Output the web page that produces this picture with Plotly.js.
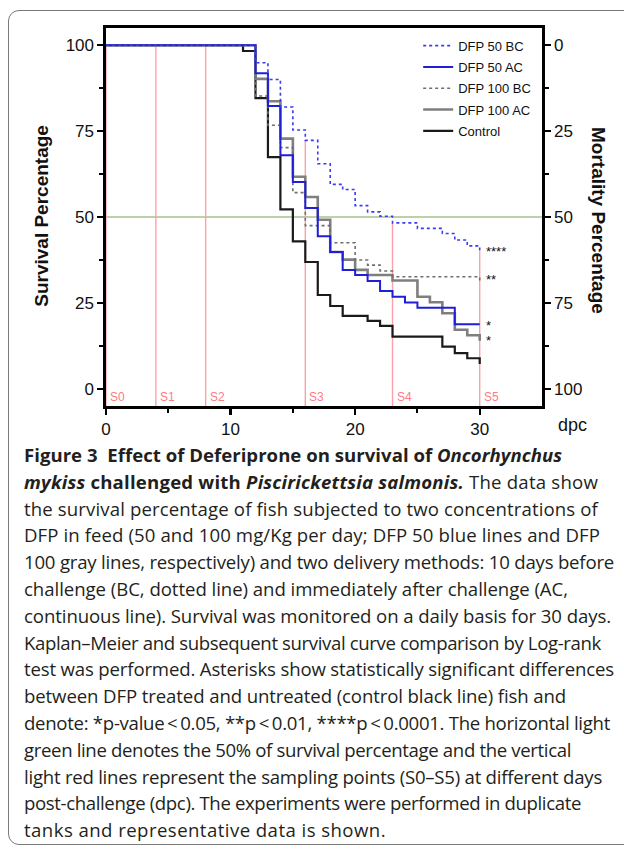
<!DOCTYPE html>
<html>
<head>
<meta charset="utf-8">
<script src="https://cdn.plot.ly/plotly-3.0.1.min.js"></script>
<style>
  html, body { margin: 0; padding: 0; background: #fff; }
  #wrap { position: relative; width: 624px; height: 850px; overflow: hidden; background: #fff; }
  #frame { position: absolute; left: 8px; top: 10px; width: 700px; height: 835px; border: 1px solid #7a7a7a; border-radius: 11px; box-sizing: border-box; pointer-events: none; }
  #plot { position: absolute; left: 0; top: 0; width: 624px; height: 850px; }
  #cap { position: absolute; left: 24px; top: 442px; width: 600px; font-family: "Open Sans", "Noto Sans", sans-serif; font-size: 18.6px; line-height: 26.8px; color: #231f20; white-space: nowrap; }
  #cap .ln { display: block; }
  #cap .ln span.t { display: inline-block; }
  #cap b { font-weight: 700; }
</style>
</head>
<body>
<div id="wrap">
  <div id="plot"></div>
  <div id="frame"></div>
  <div id="cap"></div>
</div>
<script>
// ---------------- data ----------------
const dfp50bcDays  = [0, 12, 13, 14, 15, 16, 17, 18, 19, 20, 21, 22, 23, 25, 27, 28, 29, 30];
const dfp50bcSurv  = [100, 94.9, 90.0, 82.0, 75.3, 72.3, 65.5, 59.5, 58.0, 53.3, 51.5, 50.2, 48.3, 46.7, 45.2, 43.3, 41.6, 40.0];

const dfp50acDays  = [0, 12, 13, 14, 15, 16, 17, 18, 19, 20, 21, 22, 23, 24, 25, 28, 30];
const dfp50acSurv  = [100, 91.8, 82.3, 68.0, 60.2, 52.6, 44.4, 39.8, 34.6, 33.1, 31.4, 28.5, 26.8, 25.1, 23.6, 18.8, 18.8];

const dfp100bcDays = [0, 12, 13, 14, 15, 16, 18, 20, 21, 22, 23, 30];
const dfp100bcSurv = [100, 85.2, 76.7, 70.2, 57.1, 47.5, 42.5, 37.5, 36.0, 34.3, 32.6, 30.9];

const dfp100acDays = [0, 12, 13, 14, 15, 16, 17, 18, 19, 20, 21, 23, 25, 26, 27, 28, 29, 30];
const dfp100acSurv = [100, 90.2, 83.7, 72.8, 61.7, 55.8, 49.2, 39.8, 37.6, 34.6, 33.1, 31.5, 26.8, 25.2, 22.0, 17.2, 15.6, 14.0];

const controlDays  = [0, 11, 12, 13, 14, 15, 16, 17, 18, 19, 21, 22, 23, 27, 28, 29, 30];
const controlSurv  = [100, 98.3, 84.6, 67.4, 52.2, 42.9, 36.9, 27.3, 24.1, 21.2, 19.8, 18.3, 15.2, 12.3, 10.4, 8.9, 7.2];

const seriesNames  = ["DFP 50 BC", "DFP 50 AC", "DFP 100 BC", "DFP 100 AC", "Control"];

const samplingDays   = [0, 4, 8, 16, 23, 30];
const samplingLabels = ["S0", "S1", "S2", "S3", "S4", "S5"];

const starLabels = ["****", "**", "*", "*"];
const starLevels = [40.1, 31.8, 18.4, 14.2];

const survivalTicks  = [0, 25, 50, 75, 100];
const mortalityTicks = [0, 25, 50, 75, 100];
const dayTicks       = [0, 10, 20, 30];
const halfSurvival   = 50;

// ---------------- helpers ----------------
function stepValue(days, vals, d) {
  let v = vals[0];
  for (let i = 0; i < days.length; i++) { if (days[i] <= d) v = vals[i]; }
  return v;
}

const FONT = "Liberation Sans, Arial, Helvetica, sans-serif";

const styles = {
  "DFP 50 BC":  { color: "#3b3bf0", width: 1.6, dash: "dot" },
  "DFP 50 AC":  { color: "#1f1fd8", width: 2.0, dash: "solid" },
  "DFP 100 BC": { color: "#6e6e6e", width: 1.6, dash: "dot" },
  "DFP 100 AC": { color: "#7f7f7f", width: 2.6, dash: "solid" },
  "Control":    { color: "#1a1a1a", width: 2.2, dash: "solid" }
};
const seriesData = {
  "DFP 50 BC":  [dfp50bcDays, dfp50bcSurv],
  "DFP 50 AC":  [dfp50acDays, dfp50acSurv],
  "DFP 100 BC": [dfp100bcDays, dfp100bcSurv],
  "DFP 100 AC": [dfp100acDays, dfp100acSurv],
  "Control":    [controlDays, controlSurv]
};

// draw Control first so DFP curves sit on top; legend order via legendrank
const traces = seriesNames.slice().reverse().map(name => ({
  type: "scatter", mode: "lines", name: name, legendgroup: name,
  legendrank: 1000 + seriesNames.indexOf(name),
  x: seriesData[name][0], y: seriesData[name][1],
  line: { shape: "hv", color: styles[name].color, width: styles[name].width, dash: styles[name].dash },
  hoverinfo: "skip"
}));
// empty trace to carry the right-hand mortality axis
traces.push({ type: "scatter", mode: "lines", x: [], y: [], yaxis: "y2", showlegend: false, hoverinfo: "skip" });

const shapes = [];
shapes.push({ type: "line", layer: "below", xref: "paper", x0: 0, x1: 1, yref: "y", y0: halfSurvival, y1: halfSurvival,
  line: { color: "#bcd1ab", width: 2 } });
samplingDays.forEach(d => {
  shapes.push({ type: "line", layer: "below", xref: "x", x0: d, x1: d, yref: "y", y0: -5,
    y1: stepValue(dfp50bcDays, dfp50bcSurv, d), line: { color: "#ffa0a8", width: 1.4 } });
});

const annotations = [];
samplingDays.forEach((d, i) => {
  annotations.push({ x: d, y: -2.3, xref: "x", yref: "y", text: samplingLabels[i], showarrow: false,
    xanchor: "left", yanchor: "middle", xshift: 2, font: { family: FONT, size: 12, color: "#ff7b85" } });
});
starLabels.forEach((s, i) => {
  annotations.push({ x: 30, y: starLevels[i], xref: "x", yref: "y", text: s, showarrow: false,
    xanchor: "left", yanchor: "middle", xshift: 4, font: { family: FONT, size: 13, color: "#111" } });
});
annotations.push({ x: -0.147, y: 0.503, xref: "paper", yref: "paper", text: "<b>Survival Percentage</b>",
  textangle: -90, showarrow: false, xanchor: "center", yanchor: "middle", font: { family: FONT, size: 19, color: "#111" } });
annotations.push({ x: 1.128, y: 0.49, xref: "paper", yref: "paper", text: "<b>Mortality Percentage</b>",
  textangle: 90, showarrow: false, xanchor: "center", yanchor: "middle", font: { family: FONT, size: 19, color: "#111" } });
annotations.push({ x: 1.033, y: -0.05, xref: "paper", yref: "paper", text: "dpc", showarrow: false,
  xanchor: "left", yanchor: "middle", font: { family: FONT, size: 18, color: "#111" } });

const axisCommon = {
  showgrid: false, zeroline: false, showline: true, linecolor: "#000", linewidth: 2.6,
  ticks: "outside", ticklen: 6, tickwidth: 2.4, tickcolor: "#000",
  tickfont: { family: FONT, size: 17, color: "#111" }
};

const layout = {
  width: 624, height: 850,
  margin: { l: 106, r: 82, t: 28, b: 444 },
  paper_bgcolor: "rgba(0,0,0,0)", plot_bgcolor: "rgba(0,0,0,0)",
  showlegend: true,
  legend: { x: 0.716, y: 0.993, xanchor: "left", yanchor: "top", traceorder: "grouped",
    tracegroupgap: 1.4, bgcolor: "rgba(0,0,0,0)", font: { family: FONT, size: 13, color: "#111" } },
  xaxis: Object.assign({}, axisCommon, { range: [0, 35], tickvals: dayTicks, ticktext: dayTicks.map(String),
    mirror: true, minor: { tickvals: [5, 15, 25], ticks: "outside", ticklen: 4, tickwidth: 2, tickcolor: "#000" } }),
  yaxis: Object.assign({}, axisCommon, { range: [-5, 105], tickvals: survivalTicks, ticktext: survivalTicks.map(String),
    minor: { tickvals: [12.5, 37.5, 62.5, 87.5], ticks: "outside", ticklen: 4, tickwidth: 2, tickcolor: "#000" } }),
  yaxis2: Object.assign({}, axisCommon, { overlaying: "y", side: "right", range: [105, -5],
    tickvals: mortalityTicks, ticktext: mortalityTicks.map(String),
    minor: { tickvals: [12.5, 37.5, 62.5, 87.5], ticks: "outside", ticklen: 4, tickwidth: 2, tickcolor: "#000" } }),
  shapes: shapes,
  annotations: annotations
};

Plotly.newPlot("plot", traces, layout, { staticPlot: true, displayModeBar: false });

// ---------------- caption ----------------
const captionLines = [
  "<b>Figure 3&nbsp; Effect of Deferiprone on survival of <i>Oncorhynchus</i></b>",
  "<b><i>mykiss</i> challenged with <i>Piscirickettsia salmonis.</i></b> The data show",
  "the survival percentage of fish subjected to two concentrations of",
  "DFP in feed (50 and 100 mg/Kg per day; DFP 50 blue lines and DFP",
  "100 gray lines, respectively) and two delivery methods: 10 days before",
  "challenge (BC, dotted line) and immediately after challenge (AC,",
  "continuous line). Survival was monitored on a daily basis for 30 days.",
  "Kaplan–Meier and subsequent survival curve comparison by Log-rank",
  "test was performed. Asterisks show statistically significant differences",
  "between DFP treated and untreated (control black line) fish and",
  "denote: *p-value&thinsp;&lt;&thinsp;0.05, **p&thinsp;&lt;&thinsp;0.01, ****p&thinsp;&lt;&thinsp;0.0001. The horizontal light",
  "green line denotes the 50% of survival percentage and the vertical",
  "light red lines represent the sampling points (S0–S5) at different days",
  "post-challenge (dpc). The experiments were performed in duplicate",
  "tanks and representative data is shown."
];
// right edge (page px) of each caption line in the reference
const captionLineEnds = [562, 598, 598, 600, 614, 568, 611, 601, 614, 566, 610, 571, 602, 581, 386];

const cap = document.getElementById("cap");
cap.innerHTML = captionLines.map(l => '<div class="ln"><span class="t">' + l + '</span></div>').join("");

function fitCaption() {
  const spans = cap.querySelectorAll("span.t");
  spans.forEach((sp, i) => {
    sp.style.letterSpacing = "0px";
    const natural = sp.getBoundingClientRect().width;
    const target = captionLineEnds[i] - 24;
    const n = Math.max(1, sp.textContent.length);
    let ls = (target - natural) / n;
    ls = Math.max(-1.2, Math.min(0.8, ls));
    sp.style.letterSpacing = ls.toFixed(3) + "px";
  });
}
fitCaption();
if (document.fonts && document.fonts.ready) document.fonts.ready.then(fitCaption);
</script>
</body>
</html>
